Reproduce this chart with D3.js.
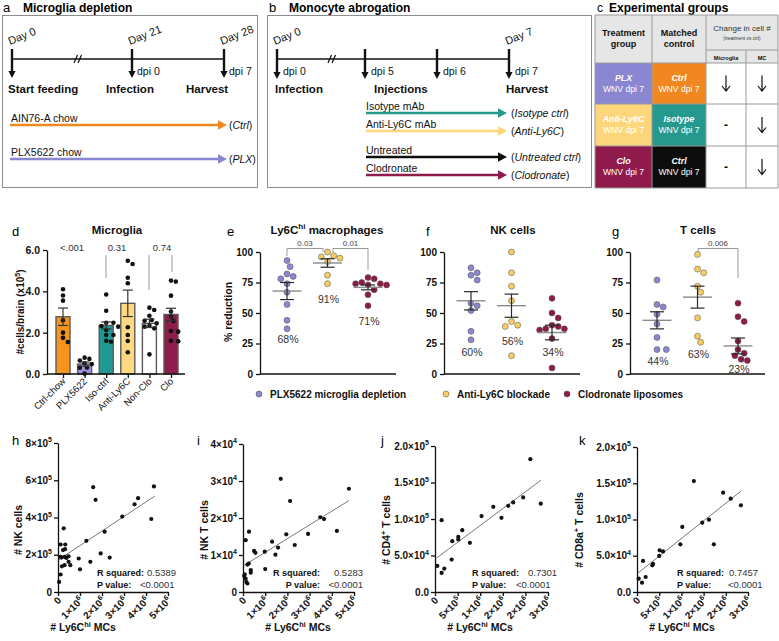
<!DOCTYPE html>
<html><head><meta charset="utf-8">
<script src="https://cdn.jsdelivr.net/npm/d3@7"></script>
<style>
body{margin:0;background:#fff}
svg{display:block}
text{font-family:'Liberation Sans',Arial,Helvetica,sans-serif}
</style>
</head><body>
<svg id="fig" width="779" height="641"></svg>
<script>
// ===================== DATA =====================
// Panel a
const aDays = ["Day 0","Day 21","Day 28"];
const aDpi = ["","dpi 0","dpi 7"];
const aEvents = ["Start feeding","Infection","Harvest"];
const aTreatments = ["AIN76-A chow","PLX5622 chow"];
const aOutcomes = ["Ctrl","PLX"];
// Panel b
const bDays = ["Day 0","","","Day 7"];
const bDpi = ["dpi 0","dpi 5","dpi 6","dpi 7"];
const bEvents = ["Infection","Injections","","Harvest"];
const bTreatments = ["Isotype mAb","Anti-Ly6C mAb","Untreated","Clodronate"];
const bOutcomes = ["Isotype ctrl","Anti-Ly6C","Untreated ctrl","Clodronate"];
// Panel c
const cTreatment = ["PLX","Anti-Ly6C","Clo"];
const cControl = ["Ctrl","Isotype","Ctrl"];
const cMicroglia = ["down","-","-"];
const cMC = ["down","down","down"];
// Panel d
const dCategories = ["Ctrl-chow","PLX5622","Iso-ctrl","Anti-Ly6C","Non-Clo","Clo"];
const dMeans = [2.77,0.48,2.35,3.42,2.45,2.88];
const dSems = [0.42,0.1,0.17,0.64,0.2,0.3];
const dPoints = [
  [4.1,3.8,3.55,2.6,2.0,1.75,1.55],
  [0.79,0.73,0.65,0.52,0.48,0.31,0.3,0.02],
  [3.85,3.06,2.48,2.48,2.29,2.32,2.13,1.89,1.89,1.61,1.56],
  [5.32,5.48,4.66,4.39,2.26,1.89,1.6,1.05],
  [3.21,3.1,2.82,2.61,2.58,2.45,2.29,2.34,2.21,0.95],
  [4.47,4.52,3.79,3.02,2.77,2.56,2.08,2.05,1.61,1.58]
];
const dYTicks = [0,2,4,6];
const dPvals = ["<.001","0.31","0.74"];
// Panels e-g
const groupNames = ["PLX5622 microglia depletion","Anti-Ly6C blockade","Clodronate liposomes"];
const pctTicks = [0,25,50,75,100];
const ePoints = [[93,88,82,80,78,74,67,57,44,37],[100,97,96,95,92,81,74],[79,78,75,74,74,73,73,69,65,56]];
const eMeans = [68,91,71], eSems = [7,3.5,2], ePct = ["68%","91%","71%"];
const fPoints = [[87,83,81,77,58,56,52,35,28],[100,83,72,60,43,40,39,15],[62,50,46,40,39,37,37,36,29,5]];
const fMeans = [60,56,34], fSems = [7.5,9.5,6], fPct = ["60%","56%","34%"];
const gPoints = [[77,57,55,49,41,30,20,20],[98,86,83,72,67,46,31,26],[58,47,43,27,20,17,15,12,11]];
const gMeans = [44,63,23], gSems = [7,9,6.5], gPct = ["44%","63%","23%"];
// Panels h-k (x in units of the x tick step base, y in units of the y label base)
const hPoints = [[0.05,0.54],[0.12,0.94],[0.12,2.55],[0.12,1.89],[0.18,1.38],[0.15,1.85],[0.23,2.25],[0.26,3.42],[0.3,1.89],[0.32,2.3],[0.3,1.44],[0.38,1.83],[0.33,2.55],[0.48,1.92],[0.48,1.62],[0.56,1.44],[0.94,1.8],[1.0,1.22],[1.29,2.75],[1.47,1.62],[1.6,5.63],[1.71,4.95],[1.94,2.07],[2.12,3.24],[2.35,1.85],[2.92,4.05],[3.48,4.71],[3.64,5.04],[4.24,3.92],[4.36,5.67]];
const hFit = [[0.05,1.75],[4.4,5.15]];
const iPoints = [[0.05,0.43],[0.08,0.48],[0.12,0.36],[0.15,0.27],[0.2,0.23],[0.12,1.4],[0.2,0.74],[0.26,0.77],[0.27,1.63],[0.35,0.59],[0.35,0.52],[0.5,1.11],[0.56,1.06],[0.98,1.09],[1.0,0.62],[1.31,1.36],[1.46,1.01],[1.58,1.2],[1.7,3.06],[1.95,1.56],[2.12,2.46],[2.33,1.27],[2.93,1.57],[3.48,2.02],[3.65,1.97],[4.23,1.65],[4.77,2.79]];
const iFit = [[0.05,0.72],[4.77,2.47]];
const jPoints = [[0.51,3.57],[1.47,2.61],[2.06,3.2],[1.47,9.84],[3.68,4.44],[3.82,6.96],[5.15,7.55],[5.15,7.19],[6.03,8.47],[7.72,6.73],[10.3,10.4],[12.9,11.67],[14.7,10.16],[16.2,11.8],[17.3,12.27],[19.5,12.95],[21.1,18.2],[23.4,12.1]];
const jFit = [[0.37,4.67],[23.4,15.3]];
const kPoints = [[0.38,1.84],[1.13,1.29],[1.95,2.07],[1.35,4.28],[3.46,3.68],[3.6,3.9],[5.0,4.97],[5.1,5.75],[5.86,5.6],[9.77,6.57],[10.2,8.97],[12.8,15.3],[14.7,9.56],[16.2,9.98],[17.3,6.57],[19.4,13.7],[21.1,12.87],[23.4,11.95]];
const kFit = [[0.23,2.62],[23.4,13.9]];
const hkXTicks = [0,1,2,3,4,5];
const hkXLabels = ["0","1\u00d710^6","2\u00d710^6","3\u00d710^6","4\u00d710^6","5\u00d710^6"];
const jkXTicks = [0,5,10,15,20,25];
const jkXLabels = ["0","5\u00d710^5","1\u00d710^6","2\u00d710^6","2\u00d710^6","3\u00d710^6"];
const hYTicks = [0,2,4,6,8], hYLabels = ["0","2\u00d710^5","4\u00d710^5","6\u00d710^5","8\u00d710^5"];
const iYTicks = [0,1,2,3,4], iYLabels = ["0","1\u00d710^4","2\u00d710^4","3\u00d710^4","4\u00d710^4"];
const jkYTicks = [0,5,10,15,20], jkYLabels = ["0.0","5.0\u00d710^4","1.0\u00d710^5","1.5\u00d710^5","2.0\u00d710^5"];
const rSquared = ["0.5389","0.5283","0.7301","0.7457"];
const pValues = ["<0.0001","<0.0001","<0.0001","<0.0001"];

// ===================== HELPERS =====================
const COL = {orange:"#f0881f", purple:"#8b86d1", teal:"#26998f", yellow:"#fdd67c", crimson:"#8e1b4b", black:"#0d0d0d"};
const groupColors = ["#8c87cf","#f7cd62","#8d1b47"];
const svg = d3.select("#fig");

function sci(s){ const m=s.split("^"); return m.length>1 ? [m[0],[m[1],{sup:1}]] : [s]; }
function rich(g,x,y,parts,o={}){
  const size=o.size||10;
  const t=g.append("text").attr("x",x).attr("y",y).attr("font-size",size)
    .attr("text-anchor",o.anchor||"start").attr("fill",o.fill||"#111");
  if(o.bold) t.attr("font-weight","bold");
  if(o.italic) t.attr("font-style","italic");
  if(o.transform) t.attr("transform",o.transform);
  let shift=0;
  parts.forEach(p=>{
    const [s,st]= typeof p==="string" ? [p,{}] : [p[0],p[1]||{}];
    const ts=t.append("tspan").text(s);
    const want= st.sup ? -size*0.42 : 0;
    if(want!==shift){ ts.attr("dy",want-shift); shift=want; }
    if(st.sup) ts.attr("font-size",size*0.7);
    if(st.b) ts.attr("font-weight","bold");
    if(st.n) ts.attr("font-weight","normal");
    if(st.i) ts.attr("font-style","italic");
    if(st.fill) ts.attr("fill",st.fill);
  });
  return t;
}
function downArrow(g,x,y1,y2){
  g.append("line").attr("x1",x).attr("x2",x).attr("y1",y1).attr("y2",y2-6).attr("stroke","#111").attr("stroke-width",2.4);
  g.append("path").attr("d",`M${x-3.6},${y2-7}L${x+3.6},${y2-7}L${x},${y2}Z`).attr("fill","#111");
}
function thinDown(g,x,ym){
  g.append("path").attr("d",`M${x},${ym-8}V${ym+7}M${x-4},${ym+2.5}L${x},${ym+7.5}L${x+4},${ym+2.5}`)
    .attr("fill","none").attr("stroke","#111").attr("stroke-width",1.2);
}
function rightArrow(g,x1,x2,y,color){
  g.append("line").attr("x1",x1).attr("x2",x2-8).attr("y1",y).attr("y2",y).attr("stroke",color).attr("stroke-width",2.4);
  g.append("path").attr("d",`M${x2-9},${y-4.8}L${x2},${y}L${x2-9},${y+4.8}Z`).attr("fill",color);
}
function breakMark(g,x,y){
  [0,4].forEach(dx=>g.append("line").attr("x1",x+dx-2).attr("y1",y+4).attr("x2",x+dx+1.5).attr("y2",y-4).attr("stroke","#111").attr("stroke-width",1.2));
}
function styleAxis(sel,size){
  sel.selectAll("path,line").attr("stroke","#111").attr("stroke-width",1.3);
  sel.selectAll("text").attr("font-family","'Liberation Sans',Arial,sans-serif").attr("font-weight","bold").attr("font-size",size||10).attr("fill","#111");
}
function swarm(vals,yS,r,step){
  const idx=vals.map((v,i)=>i).sort((a,b)=>vals[b]-vals[a]);
  const placed=[], off=new Array(vals.length);
  const cands=[0]; for(let j=1;j<10;j++){cands.push(j*step,-j*step);}
  idx.forEach(i=>{
    const py=yS(vals[i]);
    let c=cands.find(c=>placed.every(p=>Math.hypot(p.x-c,p.y-py)>=2*r+0.3));
    if(c===undefined) c=0;
    placed.push({x:c,y:py}); off[i]=c;
  });
  return off;
}

// ===================== PANEL a =====================
(function(){
  const g=svg.append("g");
  g.append("text").attr("x",3).attr("y",12).attr("font-size",13).text("a");
  g.append("text").attr("x",23).attr("y",12).attr("font-size",12).attr("font-weight","bold").text("Microglia depletion");
  g.append("rect").attr("x",2.5).attr("y",15.5).attr("width",255).attr("height",172).attr("fill","none").attr("stroke","#8c8c8c");
  const x=d3.scaleOrdinal(aDays,[12,132,224]);
  g.append("line").attr("x1",12).attr("x2",224).attr("y1",59).attr("y2",59).attr("stroke","#111").attr("stroke-width",1.3);
  breakMark(g,76,59);
  const evX=[8,106,186];
  aDays.forEach((d,i)=>{
    const px=x(d);
    downArrow(g,px,49,78);
    rich(g,0,0,[d],{size:11,transform:`translate(${px-2},45) rotate(-22)`});
    if(aDpi[i]) rich(g,px+5,75,[aDpi[i]],{size:10.5});
    rich(g,evX[i],93,[aEvents[i]],{size:11.5,bold:1});
  });
  const cols=[COL.orange,COL.purple];
  aTreatments.forEach((t,i)=>{
    const y=[125,159][i];
    rich(g,11,y-3.5,[t],{size:10.5});
    rightArrow(g,10,227,y,cols[i]);
    rich(g,229,y+4,["(",[aOutcomes[i],{i:1}],")"],{size:10.5});
  });
})();

// ===================== PANEL b =====================
(function(){
  const g=svg.append("g");
  g.append("text").attr("x",269).attr("y",12).attr("font-size",13).text("b");
  g.append("text").attr("x",289).attr("y",12).attr("font-size",12).attr("font-weight","bold").text("Monocyte abrogation");
  g.append("rect").attr("x",267.5).attr("y",15.5).attr("width",324).attr("height",172).attr("fill","none").attr("stroke","#8c8c8c");
  const x=d3.scaleOrdinal(bDpi,[277,365,437,509]);
  g.append("line").attr("x1",277).attr("x2",509).attr("y1",59).attr("y2",59).attr("stroke","#111").attr("stroke-width",1.3);
  breakMark(g,330,59);
  const evX=[275,374,0,506];
  bDpi.forEach((d,i)=>{
    const px=x(d);
    downArrow(g,px,49,79);
    if(bDays[i]) rich(g,0,0,[bDays[i]],{size:11,transform:`translate(${px-2},45) rotate(-22)`});
    rich(g,px+6,75,[d],{size:10.5});
    if(bEvents[i]) rich(g,evX[i],93,[bEvents[i]],{size:11.5,bold:1});
  });
  const cols=[COL.teal,COL.yellow,COL.black,COL.crimson];
  const ys=[113,131,157,175];
  bTreatments.forEach((t,i)=>{
    const y=ys[i];
    rich(g,366,y-3.5,[t],{size:10.5});
    rightArrow(g,366,507,y,cols[i]);
    rich(g,511,y+4,["(",[bOutcomes[i],{i:1}],")"],{size:10.5});
  });
})();

// ===================== PANEL c =====================
(function(){
  const g=svg.append("g");
  g.append("text").attr("x",597).attr("y",12).attr("font-size",12).text("c");
  g.append("text").attr("x",609).attr("y",12).attr("font-size",12).attr("font-weight","bold").text("Experimental groups");
  const cx=[595,652,706,746,778], ry=[15,63,104,146,188];
  g.append("rect").attr("x",cx[0]).attr("y",ry[0]).attr("width",cx[4]-cx[0]).attr("height",ry[1]-ry[0]).attr("fill","#e6e6e6");
  const tCols=[COL.purple,COL.yellow,COL.crimson], kCols=[COL.orange,COL.teal,COL.black];
  const mark=(v,x,ym)=>{ if(v==="down") thinDown(g,x,ym); else rich(g,x,ym+4,[v],{size:12,bold:1,anchor:"middle"}); };
  cTreatment.forEach((t,i)=>{
    const y0=ry[i+1], y1=ry[i+2], ym=(y0+y1)/2;
    g.append("rect").attr("x",cx[0]).attr("y",y0).attr("width",cx[1]-cx[0]).attr("height",y1-y0).attr("fill",tCols[i]);
    g.append("rect").attr("x",cx[1]).attr("y",y0).attr("width",cx[2]-cx[1]).attr("height",y1-y0).attr("fill",kCols[i]);
    rich(g,(cx[0]+cx[1])/2,ym-3,[t],{size:8.8,bold:1,italic:1,anchor:"middle",fill:"#fff"});
    rich(g,(cx[0]+cx[1])/2,ym+8,["WNV dpi 7"],{size:8.6,anchor:"middle",fill:"#fff"});
    rich(g,(cx[1]+cx[2])/2,ym-3,[cControl[i]],{size:8.8,bold:1,italic:1,anchor:"middle",fill:"#fff"});
    rich(g,(cx[1]+cx[2])/2,ym+8,["WNV dpi 7"],{size:8.6,anchor:"middle",fill:"#fff"});
    mark(cMicroglia[i],(cx[2]+cx[3])/2,ym);
    mark(cMC[i],(cx[3]+cx[4])/2,ym);
  });
  const ln=(x1,y1,x2,y2)=>g.append("line").attr("x1",x1).attr("y1",y1).attr("x2",x2).attr("y2",y2).attr("stroke","#9a9a9a").attr("stroke-width",1);
  ry.forEach(y=>ln(cx[0],y,cx[4],y));
  [0,1,2,4].forEach(i=>ln(cx[i],ry[0],cx[i],ry[4]));
  ln(cx[3],50,cx[3],ry[4]);
  ln(cx[2],50,cx[4],50);
  rich(g,623.5,36,["Treatment"],{size:9,bold:1,anchor:"middle"});
  rich(g,623.5,47,["group"],{size:9,bold:1,anchor:"middle"});
  rich(g,679,36,["Matched"],{size:9,bold:1,anchor:"middle"});
  rich(g,679,47,["control"],{size:9,bold:1,anchor:"middle"});
  rich(g,742,31,["Change in cell #"],{size:8,anchor:"middle",fill:"#333"});
  rich(g,742,40,["(treatment vs ctrl)"],{size:4.8,anchor:"middle",fill:"#333"});
  rich(g,726,59.5,["Microglia"],{size:5.6,bold:1,anchor:"middle"});
  rich(g,762,59.5,["MC"],{size:5.6,bold:1,anchor:"middle"});
})();

// ===================== PANEL d =====================
(function(){
  const g=svg.append("g");
  g.append("text").attr("x",12).attr("y",236).attr("font-size",13).text("d");
  rich(g,117,234,["Microglia"],{size:11.5,bold:1,anchor:"middle"});
  const y=d3.scaleLinear().domain([0,6]).range([374,250]);
  const x=d3.scalePoint().domain(dCategories).range([63,171]);
  const colors=["#f7941d","#9f8fdf","#1f9a92","#ffd882","#ffffff","#8e1c4d"];
  [[106,255,278],[149,255,290],[172,255,272]].forEach(l=>g.append("line").attr("x1",l[0]).attr("x2",l[0]).attr("y1",l[1]).attr("y2",l[2]).attr("stroke","#9a9a9a").attr("stroke-width",1));
  [72,117,162].forEach((px,i)=>rich(g,px,251,[dPvals[i]],{size:9.5,anchor:"middle",fill:"#333"}));
  dCategories.forEach((c,i)=>{
    const cx=x(c);
    g.append("rect").attr("x",cx-7).attr("y",y(dMeans[i])).attr("width",14).attr("height",y(0)-y(dMeans[i]))
      .attr("fill",colors[i]).attr("stroke","#5a5a5a").attr("stroke-width",1.4);
    const off=swarm(dPoints[i],y,2.3,2.4);
    g.selectAll(null).data(dPoints[i]).join("circle").attr("cx",(d,k)=>cx+off[k]).attr("cy",d=>y(d)).attr("r",2.3).attr("fill","#111");
    const e1=y(dMeans[i]+dSems[i]), e0=y(dMeans[i]-dSems[i]);
    g.append("line").attr("x1",cx).attr("x2",cx).attr("y1",e1).attr("y2",e0).attr("stroke","#333").attr("stroke-width",1.2);
    [e1,e0].forEach(v=>g.append("line").attr("x1",cx-5).attr("x2",cx+5).attr("y1",v).attr("y2",v).attr("stroke","#333").attr("stroke-width",1.2));
    rich(g,0,0,[c],{size:9.5,anchor:"end",transform:`translate(${cx+3},382) rotate(-45)`});
  });
  const ya=g.append("g").attr("transform","translate(47,0)").call(d3.axisLeft(y).tickValues(dYTicks).tickSize(4).tickSizeOuter(0));
  styleAxis(ya,10.5);
  const xa=g.append("g").attr("transform","translate(0,374)").call(d3.axisBottom(x).tickSize(4).tickSizeOuter(0).tickFormat(""));
  styleAxis(xa);
  xa.select(".domain").attr("d","M47,0H185");
  rich(g,0,0,["#cells/brain (x10",["5",{sup:1}],")"],{size:10,bold:1,anchor:"middle",transform:"translate(24,312) rotate(-90)"});
})();

// ===================== PANELS e, f, g =====================
function dotPanel(c){
  const g=svg.append("g");
  g.append("text").attr("x",c.lx).attr("y",236).attr("font-size",13).text(c.letter);
  rich(g,c.tx,234,c.title,{size:11.5,bold:1,anchor:"middle"});
  const y=d3.scaleLinear().domain([0,100]).range([374,252]);
  const x=d3.scalePoint().domain(groupNames).range([c.ax+27,c.ax+108]);
  (c.brackets||[]).forEach(b=>{
    g.append("path").attr("d",`M${b.x1},${b.d1}V248.5H${b.x2}V${b.d2}`).attr("fill","none").attr("stroke","#9a9a9a").attr("stroke-width",1);
    rich(g,(b.x1+b.x2)/2,245.5,[b.label],{size:8,anchor:"middle",fill:"#444"});
  });
  groupNames.forEach((gn,gi)=>{
    const cx=x(gn);
    const vals=c.points[gi];
    const off=swarm(vals,y,3,3.1);
    g.selectAll(null).data(vals).join("circle").attr("cx",(d,k)=>cx+off[k]).attr("cy",d=>y(d)).attr("r",3)
      .attr("fill",groupColors[gi]).attr("stroke","#4d4d4d").attr("stroke-width",0.5);
    const m=c.means[gi], s=c.sems[gi];
    g.append("line").attr("x1",cx-14.5).attr("x2",cx+14.5).attr("y1",y(m)).attr("y2",y(m)).attr("stroke","#8a8a8a").attr("stroke-width",1.4);
    g.append("line").attr("x1",cx).attr("x2",cx).attr("y1",y(m+s)).attr("y2",y(m-s)).attr("stroke","#2a2a2a").attr("stroke-width",1.2);
    [m+s,m-s].forEach(v=>g.append("line").attr("x1",cx-7).attr("x2",cx+7).attr("y1",y(v)).attr("y2",y(v)).attr("stroke","#2a2a2a").attr("stroke-width",1.2));
    rich(g,cx+1,c.pctY[gi],[c.pct[gi]],{size:10.5,anchor:"middle",fill:"#333"});
  });
  const ya=g.append("g").attr("transform",`translate(${c.ax},0)`).call(d3.axisLeft(y).tickValues(pctTicks).tickSize(4).tickSizeOuter(0));
  styleAxis(ya,10);
  g.append("line").attr("x1",c.ax).attr("x2",c.axR).attr("y1",374).attr("y2",374).attr("stroke","#111").attr("stroke-width",1.3);
  if(c.ylabel) rich(g,0,0,[c.ylabel],{size:10.5,bold:1,anchor:"middle",transform:`translate(${c.ax-28},312) rotate(-90)`});
}
dotPanel({letter:"e",lx:227,ax:260,axR:396,tx:327,title:["Ly6C",["hi",{sup:1}]," macrophages"],
  points:ePoints,means:eMeans,sems:eSems,pct:ePct,pctY:[343,303,325],ylabel:"% reduction",
  brackets:[{x1:287,x2:323,d1:256,d2:252,label:"0.03"},{x1:333,x2:368,d1:252,d2:270,label:"0.01"}]});
dotPanel({letter:"f",lx:426,ax:444,axR:580,tx:513,title:["NK cells"],
  points:fPoints,means:fMeans,sems:fSems,pct:fPct,pctY:[356,345,356]});
dotPanel({letter:"g",lx:612,ax:630,axR:765,tx:698,title:["T cells"],
  points:gPoints,means:gMeans,sems:gSems,pct:gPct,pctY:[365,358,373],
  brackets:[{x1:698,x2:738,d1:253,d2:278,label:"0.006"}]});

// Legend
(function(){
  const g=svg.append("g");
  const lx=[259,446,567];
  groupNames.forEach((n,i)=>{
    g.append("circle").attr("cx",lx[i]).attr("cy",394).attr("r",3).attr("fill",groupColors[i]).attr("stroke","#4d4d4d").attr("stroke-width",0.5);
    rich(g,lx[i]+11,397.5,[n],{size:10,bold:1});
  });
})();

// ===================== PANELS h-k =====================
function scatterPanel(c){
  const g=svg.append("g");
  g.append("text").attr("x",c.lx).attr("y",445).attr("font-size",13).text(c.letter);
  const x=d3.scaleLinear().domain([c.xTicks[0],c.xTicks[c.xTicks.length-1]]).range([c.ax,c.axR]);
  const y=d3.scaleLinear().domain([c.yTicks[0],c.yTicks[c.yTicks.length-1]]).range([592,c.yTop]);
  const ya=g.append("g").attr("transform",`translate(${c.ax},0)`).call(d3.axisLeft(y).tickValues(c.yTicks).tickSize(4).tickSizeOuter(0).tickFormat(""));
  styleAxis(ya);
  c.yTicks.forEach((v,i)=>rich(g,c.ax-6,y(v)+3.5,sci(c.yLabels[i]),{size:10,bold:1,anchor:"end"}));
  const xa=g.append("g").attr("transform","translate(0,592)").call(d3.axisBottom(x).tickValues(c.xTicks).tickSize(4).tickSizeOuter(0).tickFormat(""));
  styleAxis(xa);
  c.xTicks.forEach((v,i)=>rich(g,0,0,sci(c.xLabels[i]),{size:10,bold:1,anchor:"end",transform:`translate(${x(v)+4},601) rotate(-45)`}));
  g.append("line").attr("x1",x(c.fit[0][0])).attr("y1",y(c.fit[0][1])).attr("x2",x(c.fit[1][0])).attr("y2",y(c.fit[1][1])).attr("stroke","#555").attr("stroke-width",0.8);
  g.selectAll(null).data(c.pts).join("circle").attr("cx",d=>x(d[0])).attr("cy",d=>y(d[1])).attr("r",2.1).attr("fill","#111");
  rich(g,0,0,c.ylabel,{size:10.5,bold:1,anchor:"middle",transform:`translate(${c.ylx},530) rotate(-90)`});
  rich(g,c.xlx,631,["# Ly6C",["hi",{sup:1}]," MCs"],{size:10.5,bold:1,anchor:"middle"});
  rich(g,c.r[0],576,["R squared:"],{size:9,bold:1,anchor:c.r[2]});
  rich(g,c.r[1],576,[rSquared[c.idx]],{size:9.5,anchor:c.r[3],fill:"#333"});
  rich(g,c.p[0],588,["P value:"],{size:9,bold:1,anchor:c.r[2]});
  rich(g,c.p[1],588,[pValues[c.idx]],{size:9.5,anchor:c.r[3],fill:"#333"});
}
scatterPanel({idx:0,letter:"h",lx:12,ax:58,axR:168,yTop:443,xTicks:hkXTicks,xLabels:hkXLabels,yTicks:hYTicks,yLabels:hYLabels,
  pts:hPoints,fit:hFit,ylabel:["# NK cells"],ylx:22,xlx:83,r:[97,147,"start","start"],p:[97,140]});
scatterPanel({idx:1,letter:"i",lx:197,ax:243,axR:354,yTop:444,xTicks:hkXTicks,xLabels:hkXLabels,yTicks:iYTicks,yLabels:iYLabels,
  pts:iPoints,fit:iFit,ylabel:["# NK T cells"],ylx:208,xlx:298,r:[320,363,"end","end"],p:[320,363]});
scatterPanel({idx:2,letter:"j",lx:381,ax:435,axR:548,yTop:446,xTicks:jkXTicks,xLabels:jkXLabels,yTicks:jkYTicks,yLabels:jkYLabels,
  pts:jPoints,fit:jFit,ylabel:["# CD4",["+",{sup:1}]," T cells"],ylx:390,xlx:480,r:[472,528,"start","start"],p:[472,516]});
scatterPanel({idx:3,letter:"k",lx:579,ax:637,axR:748,yTop:447,xTicks:jkXTicks,xLabels:jkXLabels,yTicks:jkYTicks,yLabels:jkYLabels,
  pts:kPoints,fit:kFit,ylabel:["# CD8a",["+",{sup:1}]," T cells"],ylx:583,xlx:682,r:[677,729,"start","start"],p:[677,728]});
</script>
</body></html>
